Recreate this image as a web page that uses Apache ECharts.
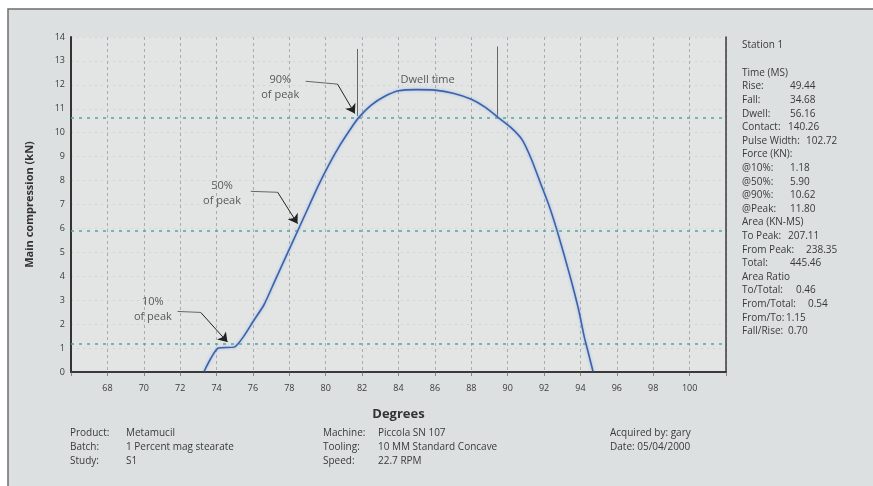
<!DOCTYPE html>
<html><head><meta charset="utf-8">
<script src="https://cdn.jsdelivr.net/npm/echarts@6/dist/echarts.min.js"></script>
<style>html,body{margin:0;padding:0;background:#fff}#c{width:873px;height:486px}</style>
</head><body><div id="c"></div>
<script>
// ---- data ----
const degrees = [73.3, 74.1, 75.0, 75.5, 76.0, 76.6, 77.2, 77.8, 78.4, 79.0, 79.6, 80.2, 80.8, 81.4, 81.8, 82.5, 83.2, 84.0, 85.0, 86.0, 87.0, 88.0, 88.8, 89.5, 90.2, 90.8, 91.3, 91.8, 92.3, 92.7, 93.1, 93.5, 93.9, 94.2, 94.4, 94.7];
const force   = [0.0, 1.0, 1.05, 1.5, 2.1, 2.8, 3.8, 4.8, 5.8, 6.8, 7.8, 8.7, 9.5, 10.2, 10.62, 11.15, 11.5, 11.75, 11.8, 11.78, 11.65, 11.4, 11.05, 10.62, 10.2, 9.7, 8.9, 7.9, 6.9, 5.95, 4.9, 3.8, 2.6, 1.5, 0.9, 0.0];
const thresholdLevels = [1.18, 5.90, 10.62];
const xTickLabels = [68, 70, 72, 74, 76, 78, 80, 82, 84, 86, 88, 90, 92, 94, 96, 98, 100];
const annotationTexts = ['10%\nof peak', '50%\nof peak', '90%\nof peak', 'Dwell time'];
const annotationAt = [[70.5, 2.6], [74.3, 7.47], [77.5, 11.9], [85.6, 12.2]];
const arrowPaths = [
  [[71.86, 2.53], [73.13, 2.49], [74.6, 1.25]],
  [[75.88, 7.55], [77.36, 7.51], [78.45, 6.2]],
  [[78.9, 12.15], [80.65, 12.03], [81.6, 10.8]]
];
const dwellMarks = [[[81.74, 13.5], [81.74, 10.7]], [[89.45, 13.6], [89.45, 10.6]]];
const stationTitle = 'Station 1';
const statLabels = ['Time (MS)', 'Rise:', 'Fall:', 'Dwell:', 'Contact:', 'Pulse Width:', 'Force (KN):', '@10%:', '@50%:', '@90%:', '@Peak:', 'Area (KN-MS)', 'To Peak:', 'From Peak:', 'Total:', 'Area Ratio', 'To/Total:', 'From/Total:', 'From/To:', 'Fall/Rise:'];
const statValues = ['', '49.44', '34.68', '56.16', '140.26', '102.72', '', '1.18', '5.90', '10.62', '11.80', '', '207.11', '238.35', '445.46', '', '0.46', '0.54', '1.15', '0.70'];
const infoLabels = [['Product:', 'Batch:', 'Study:'], ['Machine:', 'Tooling:', 'Speed:'], ['Acquired by: gary', 'Date: 05/04/2000']];
const infoValues = [['Metamucil', '1 Percent mag stearate', 'S1'], ['Piccola SN 107', '10 MM Standard Concave', '22.7 RPM'], ['', '']];

// ---- layout ----
const FONT = '"Open Sans", "Liberation Sans", sans-serif';
const TXT = '#3a3a3a';
const statValueX = [0, 790, 790, 790, 788, 806, 0, 790, 790, 790, 790, 0, 788, 806, 790, 0, 796, 808, 786, 788];
const infoX = [[70, 126], [323, 378], [610, 0]];

const chart = echarts.init(document.getElementById('c'));
const graphics = [
  { type: 'rect', z: -10, shape: { x: 8, y: 9, width: 900, height: 500 }, style: { fill: '#dde0e0', stroke: '#6d6d6d', lineWidth: 1.5 } },
  { type: 'text', x: 742, y: 45, style: { text: stationTitle, font: '10px ' + FONT, fill: TXT, verticalAlign: 'middle' } }
];
statLabels.forEach((l, i) => {
  const y = 73 + i * 13.6;
  graphics.push({ type: 'text', x: 742, y: y, style: { text: l, font: '10px ' + FONT, fill: TXT, verticalAlign: 'middle' } });
  if (statValues[i]) graphics.push({ type: 'text', x: statValueX[i], y: y, style: { text: statValues[i], font: '10px ' + FONT, fill: TXT, verticalAlign: 'middle' } });
});
infoLabels.forEach((col, c) => {
  col.forEach((l, r) => {
    const y = 433 + r * 14;
    graphics.push({ type: 'text', x: infoX[c][0], y: y, style: { text: l, font: '10px ' + FONT, fill: TXT, verticalAlign: 'middle' } });
    if (infoValues[c][r]) graphics.push({ type: 'text', x: infoX[c][1], y: y, style: { text: infoValues[c][r], font: '10px ' + FONT, fill: TXT, verticalAlign: 'middle' } });
  });
});

const frameAxis = { show: true, lineStyle: { color: '#3c3c3c', width: 1.5 } };

chart.setOption({
  backgroundColor: '#ffffff',
  animation: false,
  graphic: graphics,
  grid: { left: 71, top: 37, right: 147, bottom: 114, show: true, backgroundColor: '#e3e5e5', borderWidth: 0 },
  xAxis: [{
    type: 'value', min: 66, max: 102, interval: 2,
    name: 'Degrees', nameLocation: 'middle', nameGap: 36,
    nameTextStyle: { fontFamily: FONT, fontSize: 13, fontWeight: 'bold', color: '#333' },
    axisLine: { show: true, lineStyle: { color: '#333', width: 2 } },
    axisTick: { show: true, length: 4, lineStyle: { color: '#888' } },
    axisLabel: { fontFamily: FONT, fontSize: 9, color: TXT, margin: 12,
      formatter: v => xTickLabels.indexOf(v) >= 0 ? String(v) : '' },
    splitLine: { show: true, lineStyle: { color: '#a9acac', type: [3, 3], width: 1 } }
  }, {
    type: 'value', min: 66, max: 102, position: 'top', z: 10,
    axisLine: frameAxis, axisTick: { show: false }, axisLabel: { show: false }, splitLine: { show: false }
  }],
  yAxis: [{
    type: 'value', min: 0, max: 14, interval: 1,
    name: 'Main compression (kN)', nameLocation: 'middle', nameGap: 36, nameRotate: 90,
    nameTextStyle: { fontFamily: FONT, fontSize: 11, fontWeight: 'bold', color: '#333' },
    axisLine: { show: true, lineStyle: { color: '#333', width: 2 } },
    axisTick: { show: false },
    axisLabel: { fontFamily: FONT, fontSize: 9, color: TXT, margin: 6 },
    splitLine: { show: true, lineStyle: { color: '#d2d5d5', type: [2, 4], width: 1 } }
  }, {
    type: 'value', min: 0, max: 14, position: 'right', z: 10,
    axisLine: frameAxis, axisTick: { show: false }, axisLabel: { show: false }, splitLine: { show: false }
  }],
  series: [
    {
      type: 'line', data: degrees.map((d, i) => [d, force[i]]), symbol: 'none', smooth: 0.2, z: 5,
      lineStyle: { color: '#3d62a8', width: 1.6, shadowColor: 'rgba(140,175,230,0.9)', shadowBlur: 3 },
      markLine: {
        silent: true, symbol: 'none', label: { show: false },
        lineStyle: { color: '#4fa7a7', type: [3, 5], width: 1.6 },
        data: thresholdLevels.map(v => ({ yAxis: v }))
      }
    },
    {
      type: 'lines', coordinateSystem: 'cartesian2d', polyline: true, z: 6,
      lineStyle: { color: '#666', width: 1, opacity: 1 },
      data: arrowPaths.map(p => ({ coords: p.slice(0, 2) }))
    },
    {
      type: 'lines', coordinateSystem: 'cartesian2d', z: 6,
      symbol: ['none', 'arrow'], symbolSize: 9,
      lineStyle: { color: '#222', width: 1, opacity: 1 },
      data: arrowPaths.map(p => ({ coords: p.slice(1) }))
    },
    {
      type: 'lines', coordinateSystem: 'cartesian2d', z: 4,
      lineStyle: { color: '#666', width: 1, opacity: 1 },
      data: dwellMarks.map(p => ({ coords: p }))
    },
    {
      type: 'scatter', symbolSize: 0, z: 7,
      data: annotationAt.map((p, i) => ({ value: p, name: annotationTexts[i] })),
      label: { show: true, position: 'inside', formatter: p => p.name, fontFamily: FONT, fontSize: 11, color: '#333', lineHeight: 15, align: 'center' }
    }
  ]
});
</script></body></html>
